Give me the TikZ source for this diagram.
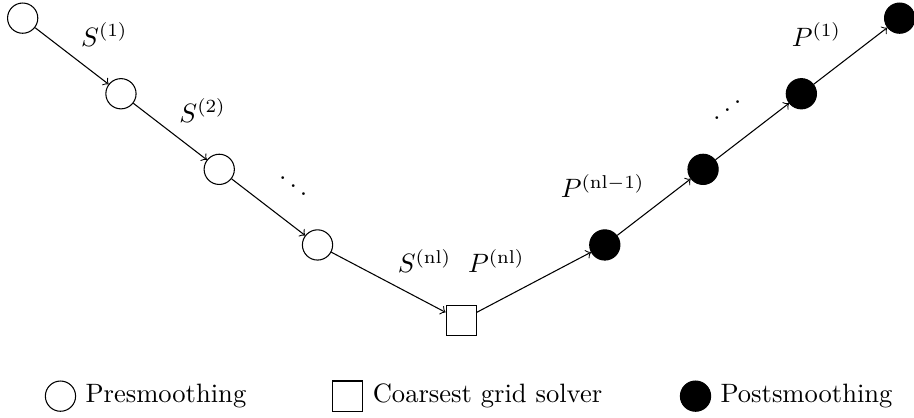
\documentclass[tikz,border=0pt]{standalone}
\usepackage{graphicx}
\usetikzlibrary{positioning}

\begin{document}
\begin{tikzpicture}[pre/.style={draw, circle, minimum size=4mm, inner sep=0pt}, post/.style={pre, fill=black}, coarse/.style={draw, minimum size=4mm, inner sep=0pt}, on grid, node distance=1cm and 1.3cm]
	\useasboundingbox (-0.3,0.24) rectangle (11.79,-5.276);
	% V-cycle
	\node[pre] (S1) {};
	\node[pre, below right=of S1] (S2) {};
	\node[pre, below right=of S2] (S3) {};
	\node[pre, below right=of S3] (S4) {};
	\node[coarse, below right=1cm and 1.9cm of S4] (C) {};
	\node[post, above right=1cm and 1.9cm of C] (P4) {};
	\node[post, above right=of P4] (P3) {};
	\node[post, above right=of P3] (P2) {};
	\node[post, above right=of P2] (P1) {};
	\draw[->] (S1) -- node[above right] {$S^{(1)}$} (S2);
	\draw[->] (S2) -- node[above right] {$S^{(2)}$} (S3);
	\draw[->] (S3) -- node[above right] {$\ddots$} (S4);
	\draw[->] (S4) -- node[above right] {$S^{(\mathrm{nl})}$} (C);
	\draw[->] (C) -- node[above left] {$P^{(\mathrm{nl})}$} (P4);
	\draw[->] (P4) -- node[above left] {$P^{(\mathrm{nl}-1)}$} (P3);
	\draw[->] (P3) -- node[above left] {\reflectbox{$\ddots$}} (P2);
	\draw[->] (P2) -- node[above left] {$P^{(1)}$} (P1);
	% legend
	\node[pre] (Lpre) at (0.5,-5) {};
	\node[right] (Tpre) at (Lpre.east) {Presmoothing};
	\node[coarse] (Lcoarse) at (4.3,-5) {};
	\node[right] (Tcoarse) at (Lcoarse.east) {Coarsest grid solver};
	\node[post] (Lpost) at (8.9,-5) {};
	\node[right] (Tpost) at (Lpost.east) {Postsmoothing};
\end{tikzpicture}
\end{document}
